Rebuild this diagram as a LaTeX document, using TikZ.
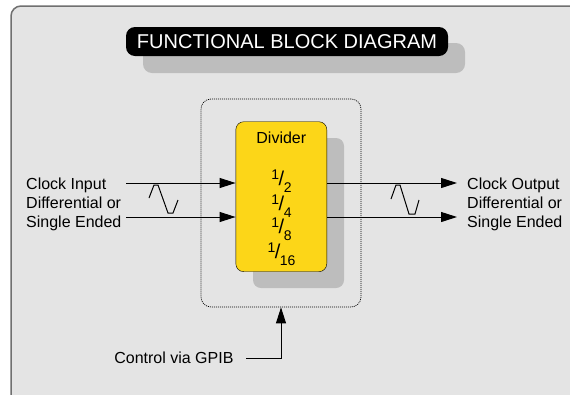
\documentclass[tikz,border=0pt]{standalone}
\usepackage{fontspec}
\setmainfont{Liberation Sans}
\usepackage{tikz}
\usetikzlibrary{positioning,arrows.meta}
\definecolor{panelgray}{HTML}{E4E4E4}
\definecolor{paneledge}{HTML}{707070}
\definecolor{shadowgray}{HTML}{BDBDBD}
\definecolor{divyellow}{RGB}{252,214,24}
\tikzset{
  panel/.style={
      draw=paneledge,
      line width=1.5pt,
      fill=panelgray,
      rounded corners=10pt,
  },
  titlebox/.style={
      fill=black,
      text=white,
      rounded corners=9pt,
      minimum width=322pt,
      minimum height=29pt,
      inner sep=0pt,
      font=\fontsize{20}{22}\selectfont,
  },
  shadowbox/.style={
      fill=shadowgray,
      rounded corners=9pt,
  },
  ctrlframe/.style={
      draw=black,
      line width=0.7pt,
      dash pattern=on 1pt off 1pt,
      rounded corners=10pt,
      minimum width=160pt,
      minimum height=208pt,
      inner sep=0pt,
  },
  divider/.style={
      draw,
      fill=divyellow,
      rounded corners=8pt,
      minimum width=91pt,
      minimum height=150pt,
      inner sep=0pt,
  },
  sigtext/.style={
      align=left,
      inner sep=0pt,
  },
  sigline/.style={
      line width=1pt,
      -{Triangle[length=16pt,width=10pt]},
  },
  wave/.style={
      line width=1pt
  },
}
\newcommand{\divfrac}[2]{%
    \raisebox{0.38em}{\fontsize{14}{14}\selectfont #1}%
    \kern-0.5pt{\fontsize{20}{20}\selectfont/}\kern-0.5pt%
    \raisebox{-0.42em}{\fontsize{14}{14}\selectfont #2}%
}

\begin{document}
\begin{tikzpicture}[x=1pt,y=-1pt,font=\fontsize{16}{19}\selectfont]
  \clip (0,0) rectangle (570,394);
  \fill[white] (0,0) rectangle (570,394);
  \draw[panel] (11,6) rectangle (590,410);

  % title
  \fill[shadowbox] (143,43) rectangle (465,73);
  \node[titlebox] (title) at (287,41.5) {FUNCTIONAL BLOCK DIAGRAM};

  % control frame and divider
  \node[ctrlframe] (frame) at (281,203) {};
  \fill[shadowbox, rounded corners=8pt] (253,138) rectangle (344,288);
  \node[divider] (div) at (281.3,196.7) {};
  \node (divname) at (281.3,137.7) {Divider};
  \node (d2) at (281.5,181) {\divfrac{1}{2}};
  \node (d4) at (281.5,206) {\divfrac{1}{4}};
  \node (d8) at (281.5,229.5) {\divfrac{1}{8}};
  \node (d16) at (281.5,254.5) {\divfrac{1}{16}};

  % clock input
  \node[sigtext, anchor=west] (inlabel) at (26,204) {Clock Input\\Differential or\\Single Ended};
  \coordinate (inA) at (126,183);
  \coordinate (inB) at (126,217);
  \draw[sigline] (inA) -- (inA -| div.west);
  \draw[sigline] (inB) -- (inB -| div.west);
  \draw[wave] (149,198) -- (154,185) -- (158,185) -- (168,213) -- (173,213) -- (178,200);

  % clock output
  \node[sigtext, anchor=west] (outlabel) at (467,204) {Clock Output\\Differential or\\Single Ended};
  \coordinate (outA) at (457,183);
  \coordinate (outB) at (457,217);
  \draw[sigline] (outA -| div.east) -- (outA);
  \draw[sigline] (outB -| div.east) -- (outB);
  \draw[wave] (391,199) -- (396,185) -- (400,185) -- (409,214) -- (415,214) -- (419,200);

  % control
  \node[anchor=east] (ctrl) at (237,358) {Control via GPIB};
  \draw[sigline] ([xshift=9pt]ctrl.east) -| (frame.south);
\end{tikzpicture}
\end{document}
